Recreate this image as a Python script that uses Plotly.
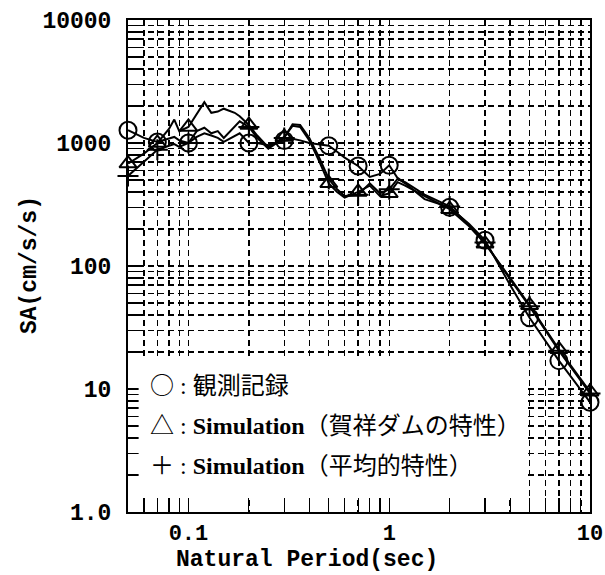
import math
import plotly.graph_objects as go

# ---------------- data ----------------
periods = [0.05, 0.06, 0.07, 0.08, 0.085, 0.09, 0.1, 0.11, 0.12, 0.13, 0.14, 0.15,
           0.17, 0.18, 0.2, 0.22, 0.25, 0.3, 0.33, 0.36, 0.4, 0.45, 0.5, 0.55, 0.6,
           0.7, 0.8, 0.9, 1.0, 1.1, 1.2, 1.5, 2.0, 2.5, 3.0, 4.0, 5.0, 7.0, 10.0]

obs_sa = [1270, 1100, 1020, 1080, 1120, 1050, 1000, 1120, 1200, 1150, 1100, 1020,
          1150, 1200, 1000, 1000, 960, 1050, 1080, 1050, 1000, 980, 950, 850, 760,
          650, 530, 560, 660, 520, 470, 350, 300, 220, 162, 70, 38, 17, 7.8]

sim_dam_sa = [680, 820, 1000, 1300, 1550, 1250, 1350, 1700, 2150, 1760, 1800, 1900,
              1760, 1650, 1400, 1150, 920, 1120, 1380, 1350, 1050, 700, 470, 400, 360,
              400, 450, 370, 390, 480, 450, 370, 290, 210, 152, 80, 48, 21, 9.5]

sim_avg_sa = [540, 700, 880, 950, 980, 930, 1000, 1250, 1330, 1200, 1250, 1100,
              1350, 1500, 1350, 1100, 900, 1100, 1420, 1400, 1100, 750, 510, 420, 370,
              380, 470, 390, 420, 510, 480, 380, 305, 215, 155, 78, 47, 20.5, 9.2]

marker_periods = [0.05, 0.07, 0.1, 0.2, 0.3, 0.5, 0.7, 1.0, 2.0, 3.0, 5.0, 7.0, 10.0]

x_tick_vals = [0.1, 1, 10]
x_tick_text = ["0.1", "1", "10"]
y_tick_vals = [1, 10, 100, 1000, 10000]
y_tick_text = ["1.0", "10", "100", "1000", "10000"]

legend_symbols = ["○", "△", "＋"]
legend_labels = ["観測記録",
                 "<b>Simulation</b>（賀祥ダムの特性）",
                 "<b>Simulation</b>（平均的特性）"]

x_title = "Natural Period(sec)"
y_title = "SA(cm/s/s)"

# ---------------- figure ----------------
def pick(vals):
    return [vals[periods.index(p)] for p in marker_periods]

def minor_vals(lo_exp, hi_exp):
    out = []
    for e in range(lo_exp, hi_exp):
        for k in range(2, 10):
            out.append(k * 10 ** e)
    return out

fig = go.Figure()

series = [
    (obs_sa, "circle-open", 17),
    (sim_dam_sa, "triangle-up-open", 15),
    (sim_avg_sa, "cross-thin-open", 15),
]

for vals, sym, size in series:
    fig.add_trace(go.Scatter(
        x=periods, y=vals, mode="lines",
        line=dict(color="black", width=2),
        hoverinfo="skip", showlegend=False, cliponaxis=False))

for vals, sym, size in series:
    fig.add_trace(go.Scatter(
        x=marker_periods, y=pick(vals), mode="markers",
        marker=dict(symbol=sym, size=size, color="black",
                    line=dict(color="black", width=2)),
        hoverinfo="skip", showlegend=False, cliponaxis=False))

mono = dict(family="Liberation Mono, DejaVu Sans Mono, monospace", size=23, color="black")
tick_mono = dict(mono, size=22)
grid_common = dict(showgrid=True, gridcolor="black", gridwidth=1.4, griddash="6px,4px")

fig.update_xaxes(
    type="log", range=[math.log10(0.05), 1], automargin=False,
    showline=True, linecolor="black", linewidth=2, mirror=True,
    tickmode="array", tickvals=x_tick_vals, ticktext=[f"<b>{t}</b>" for t in x_tick_text],
    ticks="inside", ticklen=14, tickwidth=1.4, tickcolor="black",
    tickfont=tick_mono, ticklabelstandoff=0,
    minor=dict(tickmode="array", tickvals=minor_vals(-2, 1), ticks="inside",
               ticklen=14, tickwidth=1.2, tickcolor="black",
               **grid_common),
    zeroline=False, **grid_common)

fig.update_yaxes(
    type="log", range=[0, 4], automargin=False,
    showline=True, linecolor="black", linewidth=2, mirror=True,
    tickmode="array", tickvals=y_tick_vals, ticktext=[f"<b>{t}</b>" for t in y_tick_text],
    ticks="inside", ticklen=10, tickwidth=1.4, tickcolor="black",
    tickfont=mono, ticklabelstandoff=10,
    minor=dict(tickmode="array", tickvals=minor_vals(0, 4), ticks="inside",
               ticklen=10, tickwidth=1.2, tickcolor="black",
               **grid_common),
    zeroline=False, **grid_common)

# white box that hides the grid behind the legend text (ticks stay visible)
fig.add_shape(type="rect", xref="paper", yref="paper",
              x0=0.023, x1=0.864, y0=0.0295, y1=0.315,
              fillcolor="white", line=dict(width=0), layer="above")

leg_font = dict(family="Liberation Serif, Noto Sans CJK JP, serif", size=24, color="black")
sym_span = '<span style="font-family:\'Noto Sans CJK JP\'">{}</span>'
for s, lab, yp in zip(legend_symbols, legend_labels, [0.262, 0.180, 0.098]):
    fig.add_annotation(x=0.043, y=yp, xref="paper", yref="paper",
                       text=sym_span.format(s) + " : " + lab,
                       showarrow=False, xanchor="left", yanchor="middle",
                       font=leg_font)

fig.add_annotation(x=0.387, y=-0.097, xref="paper", yref="paper",
                   text=f"<b>{x_title}</b>", showarrow=False,
                   xanchor="center", yanchor="middle", font=mono)
fig.add_annotation(x=-0.212, y=0.502, xref="paper", yref="paper",
                   text=f"<b>{y_title}</b>", showarrow=False, textangle=-90,
                   xanchor="center", yanchor="middle", font=mono)

fig.update_layout(
    width=605, height=575,
    margin=dict(l=128, r=15, t=20, b=63, autoexpand=False),
    paper_bgcolor="white", plot_bgcolor="white",
    showlegend=False, hovermode=False,
)

fig.write_html("out.html",
               config={"displayModeBar": False, "staticPlot": True},
               post_script="document.body.style.margin='0';document.body.style.padding='0';")
